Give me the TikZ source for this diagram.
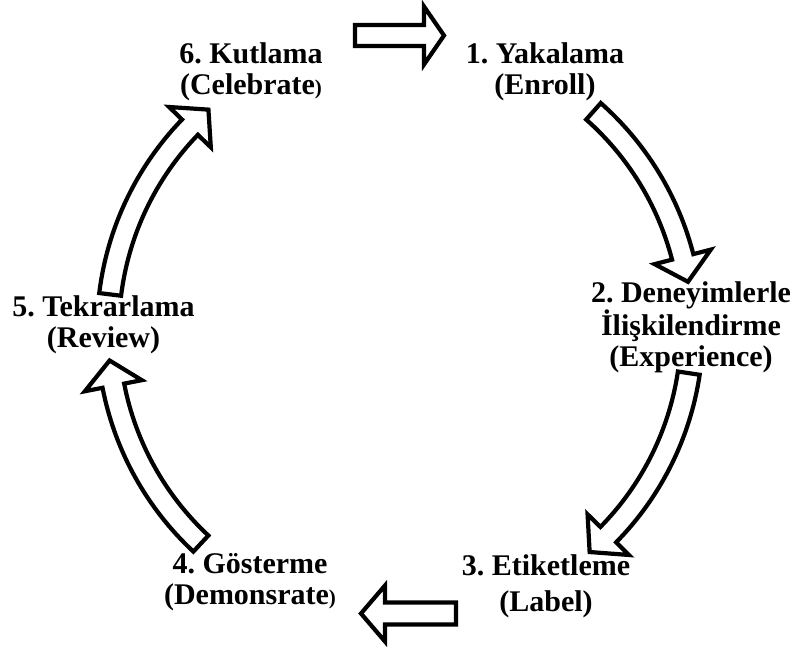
\documentclass[tikz,border=0pt]{standalone}
\usepackage{fontspec}
\setmainfont{Liberation Serif}
\usetikzlibrary{positioning}
\frenchspacing

\newcommand{\smallparen}{{\fontsize{21}{21}\selectfont)}}
% curved block arrow on the ring, from angle #1 to angle #2 (clockwise)
\newcommand{\ringarrow}[2]{%
  \draw[blockarr] (#1:303) arc[start angle=#1, end angle=#2+5, radius=303]
    -- ({#2+5}:321) -- (#2:292) -- ({#2+5}:263) -- ({#2+5}:281)
    arc[start angle=#2+5, end angle=#1, radius=281] -- cycle;}

\begin{document}
\begin{tikzpicture}[x=1pt, y=1pt,
  stage/.style={anchor=base, align=center, inner sep=0pt,
    font=\bfseries\fontsize{30}{31}\selectfont},
  blockarr/.style={draw=black, fill=white, line width=4.2pt}]
\useasboundingbox (0,0) rectangle (795,653);
\node[stage] (enroll) at (545,558) {1. Yakalama\\(Enroll)};
\node[stage] (experience) at (691,286) {2. Deneyimlerle\\İlişkilendirme\\(Experience)};
\node[stage] (label) at (546,41) {3. Etiketleme\\[5pt](Label)};
\node[stage] (demo) at (250,48) {4. Gösterme\\(Demonsrate\smallparen};
\node[stage] (review) at (103.5,305) {5. Tekrarlama\\(Review)};
\node[stage] (celebrate) at (251,558) {6. Kutlama\\(Celebrate\smallparen};
% straight arrows
\draw[blockarr] (355,628) -- (424,628) -- (424,646.5) -- (444,617.5)
  -- (424,588.5) -- (424,607) -- (355,607) -- cycle;
\draw[blockarr] (456,50.5) -- (385,50.5) -- (385,67.5) -- (361,39.5)
  -- (385,11.5) -- (385,28.5) -- (456,28.5) -- cycle;
% bent arrows
\begin{scope}[shift={(400,323)}]
\ringarrow{48.5}{9.5}
\ringarrow{-8.5}{-49.5}
\ringarrow{227}{186}
\ringarrow{173}{131}
\end{scope}
\end{tikzpicture}
\end{document}
